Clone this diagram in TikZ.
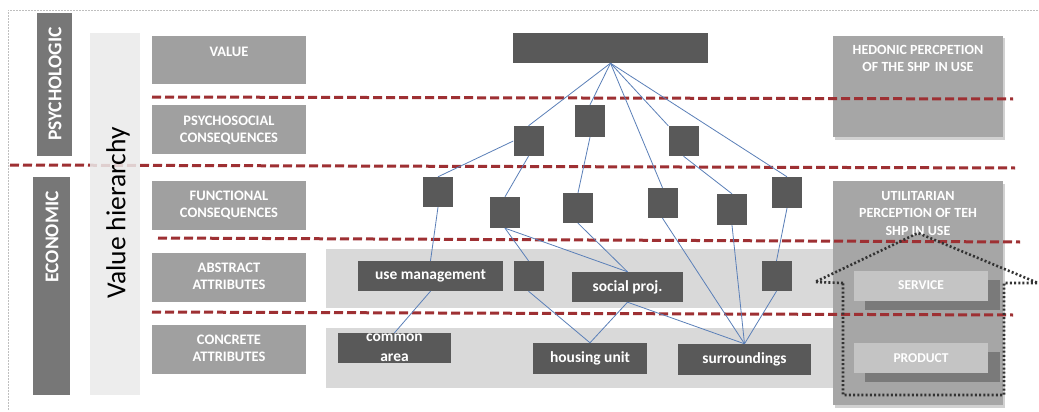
\documentclass[tikz,border=0pt]{standalone}
\usepackage{fontspec}
\setmainfont{Carlito}
\definecolor{lblgray}{HTML}{A0A0A0}
\definecolor{sidegray}{HTML}{777777}
\definecolor{darkbox}{HTML}{595959}
\definecolor{bandgray}{HTML}{D9D9D9}
\definecolor{bargray}{HTML}{EBEBEB}
\definecolor{rightgray}{HTML}{A6A6A6}
\definecolor{svcgray}{HTML}{C4C4C4}
\definecolor{svcshadow}{HTML}{7A7A7A}
\definecolor{redl}{HTML}{9E3033}
\definecolor{bluel}{HTML}{5A7FB8}
\begin{document}
\begin{tikzpicture}[x=1pt,y=-1pt,
  lab/.style={fill=lblgray, inner sep=0pt, minimum width=154pt, minimum height=49pt},
  labtxt/.style={text=white, font=\fontsize{14.5}{16.5}\selectfont\bfseries, align=center, anchor=north, inner sep=0pt},
  sq/.style={fill=darkbox, inner sep=0pt, minimum width=30pt, minimum height=30pt},
  dk/.style={fill=darkbox, text=white, font=\fontsize{15.5}{20}\selectfont\bfseries, inner sep=0pt, minimum height=30pt, align=center},
  side/.style={fill=sidegray, inner sep=0pt},
  sidetxt/.style={text=white, font=\fontsize{19.5}{22}\selectfont\bfseries, rotate=90, inner sep=0pt},
  conn/.style={draw=bluel, line width=0.8pt},
  redd/.style={draw=redl, line width=3pt, dash pattern=on 9pt off 4pt},
  framel/.style={draw=black!25, line width=0.6pt, dash pattern=on 2pt off 1pt},
  house/.style={draw=black!80, line width=2.6pt, dash pattern=on 2pt off 2.2pt},
  rbox/.style={fill=rightgray, inner sep=0pt, minimum width=170pt},
  rtxt/.style={text=white, font=\fontsize{14}{17.5}\selectfont\bfseries, align=center, anchor=north, inner sep=0pt},
  svc/.style={fill=svcgray, text=white, font=\fontsize{13.5}{15}\selectfont\bfseries, inner sep=0pt, minimum width=134pt, minimum height=30pt},
  shd/.style={fill=svcshadow, inner sep=0pt, minimum width=135pt, minimum height=30pt}]
\useasboundingbox (0,0) rectangle (1039,412);
\fill[white] (0,0) rectangle (1039,412);
% frame
\draw[framel] (8,410) -- (8,10) -- (1039,10);
% bands
\fill[bandgray] (326,249) rectangle (840,308);
\fill[bandgray] (326,328) rectangle (835,388);
% side boxes
\node[side, minimum width=35pt, minimum height=143pt] (psy) at (54.5,84.5) {};
\node[sidetxt] (psyT) at (55,84) {PSYCHOLOGIC};
\node[side, minimum width=37pt, minimum height=218pt] (eco) at (51.5,286) {};
\node[sidetxt] (ecoT) at (52,237) {ECONOMIC};
% left labels
\node[lab, minimum height=48pt] (val) at (229,60) {};
\node[lab] (psc) at (229,129.5) {};
\node[lab] (fun) at (229,205.5) {};
\node[lab] (abs) at (229,277.5) {};
\node[lab] (con) at (229,349.5) {};
\node[labtxt] (valT) at ([yshift=-11pt]val.north) {VALUE};
\node[labtxt] (pscT) at ([yshift=-11pt]psc.north) {PSYCHOSOCIAL\\CONSEQUENCES};
\node[labtxt] (funT) at ([yshift=-10pt]fun.north) {FUNCTIONAL\\CONSEQUENCES};
\node[labtxt] (absT) at ([yshift=-10pt]abs.north) {ABSTRACT\\ATTRIBUTES};
\node[labtxt] (conT) at ([yshift=-10pt]con.north) {CONCRETE\\ATTRIBUTES};
% right boxes
\fill[black!18] (834.5,38.5) rectangle (1004.5,139.5);
\node[rbox, minimum height=101pt] (hed) at (918,86.5) {};
\fill[black!18] (834.5,183.5) rectangle (1004.5,407.5);
\node[rbox, minimum height=224pt] (uti) at (918,293) {};
\node[rtxt] (hedT) at ([yshift=-9pt]hed.north) {HEDONIC PERCPETION\\OF THE SHP\,\,IN USE};
\node[rtxt] (utiT) at ([yshift=-10pt]uti.north) {UTILITARIAN\\PERCEPTION OF TEH\\SHP IN USE};
\node[shd] (svcS) at (932.5,295) {};
\node[svc] (svc) at (921,285.5) {SERVICE};
\node[shd] (prdS) at (932.5,367) {};
\node[svc] (prd) at (921,358) {PRODUCT};
% red dashed lines
\draw[redd] (152,97) -- (1013,99);
\draw[redd] (10,165) -- (1015,168);
\draw[redd] (158,238) -- (1020,242);
\draw[redd] (152,312) -- (1013,315);
% value hierarchy bar
\node[fill=bargray, fill opacity=0.85, inner sep=0pt, minimum width=50pt, minimum height=362pt] (bar) at (115,214) {};
\node[rotate=90, font=\fontsize{27.5}{30}\selectfont, inner sep=0pt] (barT) at (118,213) {Value hierarchy};
% dark nodes
\node[dk, minimum width=195pt] (top) at (610.5,48) {};
\node[sq] (A) at (528.5,141) {};
\node[sq, minimum height=32pt] (B) at (590,121) {};
\node[sq] (C) at (683.5,141) {};
\node[sq] (D) at (438,192) {};
\node[sq, minimum height=31pt] (E) at (505,212.5) {};
\node[sq] (F) at (578,208) {};
\node[sq] (G) at (662.5,203) {};
\node[sq, minimum height=31pt] (H) at (732,209.5) {};
\node[sq, minimum height=31pt] (I) at (787,192.5) {};
\node[sq] (J) at (528.5,276) {};
\node[sq] (K) at (776.5,276) {};
\node[dk, minimum width=145pt] (usem) at (430.5,276) {use management};
\node[dk, minimum width=111pt] (soc) at (627.5,287) {social proj.};
\node[dk, minimum width=113pt] (com) at (394.5,348) {common\\area};
\node[dk, minimum width=114pt, minimum height=31pt] (hou) at (590,358.5) {housing unit};
\node[dk, minimum width=133pt, minimum height=31pt] (sur) at (744.5,359.5) {surroundings};
% connectors
\draw[conn] (top.south) -- (A.north);
\draw[conn] (top.south) -- (B.north);
\draw[conn] (top.south) -- (C.north west);
\draw[conn] (top.south) -- (G.north);
\draw[conn] (top.south) -- (I.north);
\draw[conn] (C.south) -- (H.north);
\draw[conn] (A.west) -- (D.north);
\draw[conn] (A.south) -- (E.north);
\draw[conn] (B.south) -- (F.north);
\draw[conn] (D.south) -- (usem.north);
\draw[conn] (usem.south) -- (com.north);
\draw[conn] (E.south) -- (J.north);
\draw[conn] (E.south) -- (soc.north);
\draw[conn] (F.south) -- (soc.north);
\draw[conn] (J.south) -- (hou.north);
\draw[conn] (soc.south) -- (hou.north);
\draw[conn] (soc.south) -- (sur.north);
\draw[conn] (G.south) -- (sur.north);
\draw[conn] (H.south) -- (sur.north);
\draw[conn] (K.south) -- (sur.north);
\draw[conn] (I.south) -- (K.north);
% dotted house arrow
\coordinate (h1) at (843,283);
\coordinate (h2) at (815,282);
\coordinate (h3) at (918,233);
\coordinate (h4) at (1038,283);
\coordinate (h5) at (1004,283);
\coordinate (h6) at (1004,395);
\coordinate (h7) at (843,395);
\draw[house] (h1) -- (h2) -- (h3) -- (h4) -- (h5) -- (h6) -- (h7) -- cycle;
\end{tikzpicture}
\end{document}
